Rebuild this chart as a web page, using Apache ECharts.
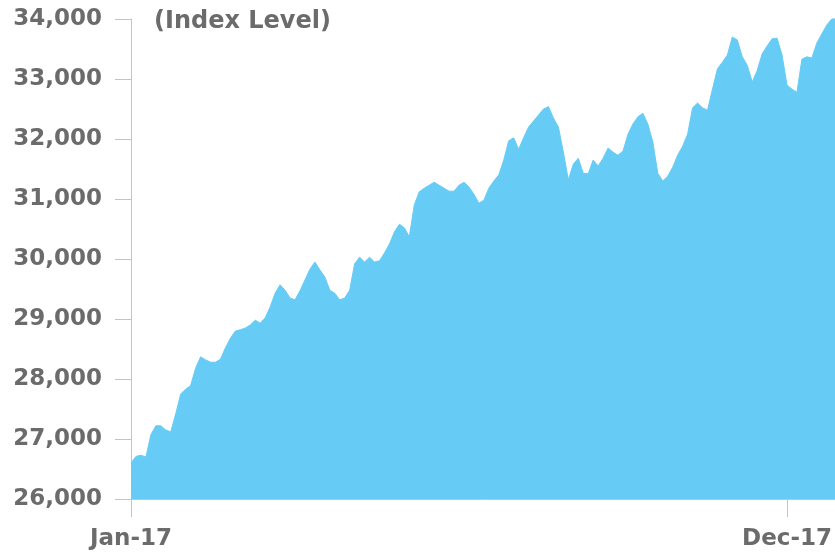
<!DOCTYPE html>
<html>
<head>
<meta charset="utf-8">
<title>Index Level</title>
<script src="https://cdn.jsdelivr.net/npm/echarts@6/dist/echarts.min.js"></script>
<style>
  html, body { margin: 0; padding: 0; overflow: hidden; background: #ffffff; }
  #chart { width: 840px; height: 555px; }
</style>
</head>
<body>
<div id="chart"></div>
<script>
// Index level, sampled roughly every two to three trading days from Jan-17 on
const indexLevel = [
  26600, 26710, 26730, 26700, 27070, 27220, 27220, 27150, 27120, 27420,
  27750, 27830, 27890, 28180, 28370, 28320, 28280, 28280, 28330, 28520,
  28680, 28800, 28820, 28850, 28900, 28980, 28930, 29020, 29200, 29430,
  29570, 29480, 29350, 29320, 29470, 29650, 29830, 29950, 29820, 29700,
  29480, 29430, 29320, 29350, 29480, 29920, 30030, 29950, 30030, 29950,
  29970, 30100, 30250, 30450, 30580, 30520, 30370, 30900, 31120, 31180,
  31230, 31280, 31230, 31180, 31130, 31130, 31230, 31280, 31200, 31080,
  30930, 30980, 31180, 31300, 31400, 31650, 31970, 32020, 31830, 32020,
  32200, 32300, 32400, 32500, 32540, 32350, 32200, 31780, 31320, 31580,
  31680, 31430, 31420, 31650, 31550, 31680, 31850, 31780, 31730, 31800,
  32080, 32250, 32370, 32430, 32250, 31950, 31430, 31300, 31380, 31530,
  31730, 31880, 32080, 32520, 32600, 32520, 32480, 32830, 33170, 33280,
  33400, 33700, 33650, 33370, 33230, 32950, 33140, 33420, 33550, 33670,
  33680, 33400, 32900, 32830, 32780, 33330, 33370, 33350, 33600, 33750,
  33900, 34000, 34030
];

// Month labels shown on the time axis, keyed by sample position
const tickLabels = ['Jan-17', 'Dec-17'];
const tickPositions = [0, 132];

const yTicks = { min: 26000, max: 34000, step: 1000 };
const unitLabel = '(Index Level)';

const categories = indexLevel.map((_, i) => {
  const k = tickPositions.indexOf(i);
  return k >= 0 ? tickLabels[k] : '';
});

const textColor = '#6b6b6b';
const axisColor = '#c4c4c4';
const fontFamily = '"DejaVu Sans", Verdana, sans-serif';

const chart = echarts.init(document.getElementById('chart'), null, { renderer: 'canvas' });

chart.setOption({
  animation: false,
  backgroundColor: '#ffffff',
  grid: { left: 131, right: 3.3, top: 19, bottom: 56, containLabel: false },
  graphic: [{
    type: 'text',
    left: 154,
    top: 10,
    style: {
      text: unitLabel,
      fill: textColor,
      font: 'bold 24px ' + fontFamily
    }
  }],
  xAxis: {
    type: 'category',
    data: categories,
    boundaryGap: false,
    axisLine: { show: true, lineStyle: { color: axisColor, width: 1 } },
    axisTick: {
      show: true,
      length: 18,
      interval: (i, v) => v !== '',
      lineStyle: { color: axisColor, width: 1 }
    },
    axisLabel: {
      show: true,
      interval: (i, v) => v !== '',
      margin: 29,
      color: textColor,
      fontFamily: fontFamily,
      fontWeight: 'bold',
      fontSize: 23
    },
    splitLine: { show: false }
  },
  yAxis: {
    type: 'value',
    min: yTicks.min,
    max: yTicks.max,
    interval: yTicks.step,
    axisLine: { show: true, lineStyle: { color: axisColor, width: 1 } },
    axisTick: { show: true, length: 16, lineStyle: { color: axisColor, width: 1 } },
    axisLabel: {
      margin: 29,
      color: textColor,
      fontFamily: fontFamily,
      fontWeight: 'bold',
      fontSize: 23,
      formatter: v => v.toLocaleString('en-US')
    },
    splitLine: { show: false }
  },
  series: [{
    type: 'line',
    data: indexLevel,
    symbol: 'none',
    smooth: false,
    lineStyle: { color: '#66ccf5', width: 1 },
    areaStyle: { color: '#66ccf5', opacity: 1 },
    z: 1
  }]
});
</script>
</body>
</html>
